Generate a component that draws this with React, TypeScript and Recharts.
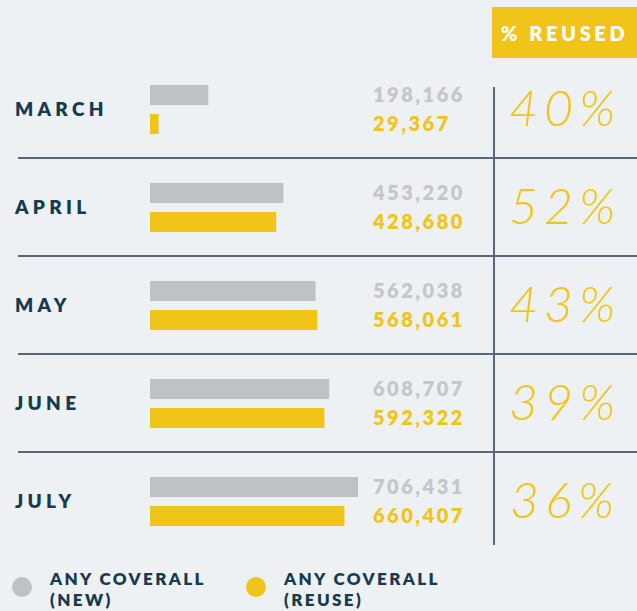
import React from 'react';
import { BarChart, Bar, XAxis, YAxis, LabelList } from 'recharts';

const months = ['MARCH', 'APRIL', 'MAY', 'JUNE', 'JULY'];
const newCoveralls = [198166, 453220, 562038, 608707, 706431];
const reusedCoveralls = [29367, 428680, 568061, 592322, 660407];
const pctReused = ['40%', '52%', '43%', '39%', '36%'];

const data = months.map((month, i) => ({
  month,
  newCount: newCoveralls[i],
  reuse: reusedCoveralls[i],
}));

const W = 637;
const H = 611;
const TOP = 60;
const BOTTOM = 61;
const ROW = (H - TOP - BOTTOM) / months.length;

const NAVY = '#163a4f';
const GREY = '#bec2c5';
const GREY_TEXT = '#c4c7ca';
const YELLOW = '#f1c419';
const RULE = '#586878';
const FONT = 'Lato, "DejaVu Sans", sans-serif';

const RowTick = (props: any) => {
  const { y, index } = props;
  return (
    <g>
      {index > 0 && (
        <line x1={18} x2={W} y1={y - ROW / 2} y2={y - ROW / 2} stroke={RULE} strokeWidth={2} />
      )}
      <text
        x={15}
        y={y}
        dy="0.36em"
        fill={NAVY}
        fontFamily={FONT}
        fontWeight={800}
        fontSize={19}
        letterSpacing={4.3}
        textAnchor="start"
      >
        {props.payload.value}
      </text>
      <text
        x={565}
        y={y - 1}
        dy="0.36em"
        fill={YELLOW}
        fontFamily={FONT}
        fontWeight={300}
        fontStyle="italic"
        fontSize={50}
        letterSpacing={6}
        textAnchor="middle"
      >
        {pctReused[index]}
      </text>
    </g>
  );
};

const numLabel = (color: string) => (props: any) => {
  const vb = props.viewBox || {};
  const y = props.y ?? vb.y;
  const h = props.height ?? vb.height;
  return (
    <text
      x={373}
      y={y + h / 2}
      dy="0.36em"
      fill={color}
      fontFamily={FONT}
      fontWeight={800}
      fontSize={20}
      letterSpacing={2.5}
      textAnchor="start"
    >
      {Number(props.value).toLocaleString('en-US')}
    </text>
  );
};

const LegendItem = ({ color, left, label }: { color: string; left: number; label: string }) => (
  <div style={{ position: 'absolute', left, top: 568 }}>
    <div
      style={{
        position: 'absolute',
        left: 0,
        top: 9,
        width: 20,
        height: 20,
        borderRadius: 10,
        background: color,
      }}
    />
    <div
      style={{
        position: 'absolute',
        left: 38,
        top: 0,
        width: 220,
        fontFamily: FONT,
        fontWeight: 800,
        fontSize: 17,
        lineHeight: '21px',
        letterSpacing: 2.4,
        color: NAVY,
      }}
    >
      ANY COVERALL
      <br />
      {label}
    </div>
  </div>
);

export default function App() {
  return (
    <div
      style={{
        position: 'absolute',
        left: 0,
        top: 0,
        width: W,
        height: H,
        background: '#eef1f3',
        overflow: 'hidden',
      }}
    >
      <div
        style={{
          position: 'absolute',
          left: 492,
          top: 7,
          width: 145,
          height: 51,
          background: YELLOW,
          color: '#fff',
          fontFamily: FONT,
          fontWeight: 800,
          fontSize: 20,
          letterSpacing: 3.6,
          display: 'flex',
          alignItems: 'center',
          justifyContent: 'center',
        }}
      >
        % REUSED
      </div>
      <div
        style={{
          position: 'absolute',
          left: 493,
          top: 87,
          width: 1.5,
          height: 458,
          background: RULE,
        }}
      />
      <div style={{ position: 'absolute', left: 0, top: 0 }}>
        <BarChart
          width={W}
          height={H}
          data={data}
          layout="vertical"
          margin={{ top: TOP, right: 275, bottom: BOTTOM, left: 0 }}
          barSize={20}
          barGap={9}
        >
          <XAxis type="number" domain={[0, 720000]} hide />
          <YAxis
            type="category"
            dataKey="month"
            width={150}
            axisLine={false}
            tickLine={false}
            interval={0}
            tick={RowTick}
          />
          <Bar dataKey="newCount" fill={GREY} isAnimationActive={false}>
            <LabelList dataKey="newCount" content={numLabel(GREY_TEXT)} />
          </Bar>
          <Bar dataKey="reuse" fill={YELLOW} isAnimationActive={false}>
            <LabelList dataKey="reuse" content={numLabel(YELLOW)} />
          </Bar>
        </BarChart>
      </div>
      <LegendItem color={GREY} left={12} label="(NEW)" />
      <LegendItem color={YELLOW} left={246} label="(REUSE)" />
    </div>
  );
}
